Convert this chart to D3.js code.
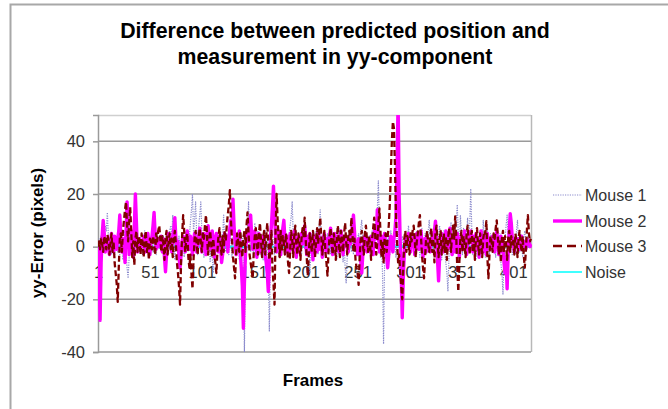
<!DOCTYPE html>
<html><head><meta charset="utf-8">
<script src="https://cdn.jsdelivr.net/npm/d3@7"></script>
<style>body{margin:0;background:#fff}svg{display:block}text{font-family:"Liberation Sans",Arial,sans-serif}</style>
</head><body><svg id="c" width="668" height="409"></svg>
<script>
const frameCount = 418;
const frames = d3.range(1, frameCount + 1);
const xTickLabels = [1, 51, 101, 151, 201, 251, 301, 351, 401];
const yTicks = [-40, -20, 0, 20, 40];
const seriesNames = ["Mouse 1", "Mouse 2", "Mouse 3", "Noise"];

const mouse1 = [
1,3,-2,4,-1,2,5,8,6,13,4,-2,1,-3,2,0,-4,3,1,-2,
2,-3,4,1,-5,3,6,-2,-8,-12,-4,2,5,1,-3,4,7,2,-1,3,
-2,4,1,-3,2,6,5,-1,3,-4,2,0,4,-2,1,3,-3,5,2,-1,
3,-2,1,4,-4,2,5,1,-3,6,8,4,12,3,-5,2,1,-2,4,0,
-3,5,2,-4,3,6,1,-2,4,9,14,20,6,10,17,5,-3,8,12,17,
6,2,-4,3,5,1,-2,4,-6,2,-4,-10,-3,2,5,1,-2,3,6,1,
4,12,3,-2,5,1,-3,6,2,-4,3,8,1,-2,4,2,-5,3,1,4,
-8,-40,-6,4,8,17,3,-2,5,1,-4,9,3,-1,6,2,-3,4,1,-5,
3,6,-2,4,-8,-32,-6,3,5,1,-3,4,7,2,-4,3,6,-1,2,4,
-2,5,1,-3,4,8,11,17,5,-2,3,6,-4,2,1,5,-3,4,2,-1,
3,-2,4,1,-10,-3,5,2,-1,4,6,2,-3,8,14,4,-2,3,1,-4,
2,5,-1,3,-3,6,1,-2,4,2,-5,3,7,1,-2,4,-6,2,-8,-14,
-4,3,5,1,-2,4,-3,6,2,-1,3,5,-2,7,10,4,-3,2,5,1,
-2,4,1,-3,6,3,-1,5,9,14,25,8,-4,2,-10,-37,-6,3,5,1,
4,-3,6,2,-2,5,1,-4,3,7,2,-1,-6,4,2,-3,5,1,3,8,
2,-3,4,1,5,-2,3,6,-1,2,-4,4,7,2,-3,5,1,-2,6,10,
3,-2,5,1,-4,6,2,-3,4,8,1,-5,3,6,-2,-6,-10,-17,-4,5,
9,2,-3,6,3,10,16,4,-2,12,5,-3,7,2,-4,6,11,3,8,22,
6,-3,4,2,-5,5,1,-2,6,3,-1,10,4,-4,3,7,1,-3,5,2,
-2,4,1,-4,6,3,-3,5,-6,-10,-18,-4,3,8,12,4,-2,5,1,-3,
4,2,-3,6,10,3,-2,5,1,-4,3,6,2,-1,4,1,3,2
];

const mouse2 = [
0,-10,-28,-6,4,10,5,-2,1,3,0,-3,2,5,1,-2,4,0,-1,3,
6,12,4,-2,1,3,-6,5,17,7,-3,2,6,1,-4,8,20,9,-2,1,
3,-1,2,0,4,1,-2,3,5,1,-3,2,4,8,13,5,-1,2,0,3,
1,4,-2,3,-4,-9.5,-3,2,5,1,3,-2,4,7,11,3,-1,2,-4,-8,
-3,2,4,1,-2,3,6,2,-1,4,1,-3,2,5,3,-2,1,4,7,3,
-2,1,5,2,-3,4,8,3,-1,2,6,1,-4,3,5,2,-2,4,1,-6,
-3,2,5,1,4,-2,3,7,10,6,18,8,2,-3,4,1,6,-2,-8,-15,
-31,-14,-3,3,5,2,8,12,4,-1,3,6,1,-4,2,5,-2,3,1,4,
2,-3,-6,-10,-17,-5,3,8,15,23,12,4,-2,3,6,1,-3,4,7,10,
3,-2,4,1,-3,5,2,-1,3,6,1,-4,2,4,-2,3,5,1,4,8,
2,-3,4,1,5,-2,3,-5,2,4,1,-2,6,3,-1,2,-4,3,5,1,
-2,3,1,4,7,2,-3,1,5,-1,2,4,-2,3,6,1,-3,2,4,0,
3,-2,4,1,5,8,12,6,-1,2,-3,3,1,-5,-10,-3,2,4,1,-2,
3,1,-2,4,2,-3,5,8,3,14,6,-2,1,4,-3,2,5,1,-4,-8,
-3,2,4,1,-2,3,6,12,30,55,20,2,-10,-27,-12,-2,3,1,4,5,
2,-2,3,1,4,-3,2,5,1,-1,3,6,2,-4,1,3,-2,4,2,1,
-2,3,1,4,6,9.7,3,-5,-13,-4,2,5,1,-2,3,6,2,-1,4,7,
2,-3,4,1,-2,3,5,1,-4,2,4,-1,3,6,2,-3,1,4,2,6,
3,-2,4,1,5,-1,2,-4,3,6,1,-2,4,2,-3,5,1,3,-1,2,
4,1,-2,3,6,2,-3,1,4,-2,2,-6,-10,-4,-16,-3,6,12.5,9,3,
1,-2,3,2,3,1,-1,2,4,1,0,2,-1,3,1,2,0,1
];

const mouse3 = [
0,2,-1,3,1,-2,4,2,-1,4.5,3,-3,1,5,-2,2,-6,-10,-14,-21,
-8,3,5,-2,6,10,14,17,8,2,9,15,6,-4,2,-7,3,6,-2,4,
2,-3,5,1,-4,3,6,-2,1,-5,3,2,-1,4,1,-3,5,2,6,8,
3,-2,4,1,-5,3,6,-3,2,5,-1,3,-4,2,6,1,-6,-10,-15,-22,
-6,4,12,6,-2,3,5,-4,-8,-3,-10,-16,-5,3,6,1,-3,4,7,2,
-2,5,3,8,12,4,-3,2,6,1,-4,3,-2,-6,-10,-2,4,7,1,-3,
4,-2,6,2,8,12,16,21.5,10,3,-4,-8,-12,-3,5,2,-2,6,1,-4,
3,6,-2,8,13,5,-3,-6,-9,-12,-2,4,7,1,-3,5,9,2,-4,3,
6,-3,4,9,2,-5,-2,6,-8,-14,-22,6,20,10,3,-4,6,-2,4,1,
-3,5,2,-6,-10,-2,6,3,-4,4,8,1,-3,5,2,-5,3,7,4,11,
3,-4,-11,-3,5,1,-2,6,3,-4,2,7,1,5,11,4,-3,2,6,-2,
-6,-11,-2,4,7,1,-3,5,2,-5,3,8,1,-4,6,3,-2,5,9,2,
-3,4,6,2,11,5,-2,3,-5,-8,-10,-14.5,-4,3,6,1,-3,5,8,3,
-2,4,1,-5,3,7,11,4,-3,2,8,14.5,6,-4,2,-6,3,5,-2,4,
8,16,28,40,47.5,45,30,12,2,-6,-3,-10,-15,-20,-8,3,6,-2,4,1,
-3,5,2,6,8,3,-4,2,5,9,12,4,-3,-8,-12,-4,3,6,1,-2,
4,7,-2,3,-6,5,8,2,-4,3,6,-3,1,5,-2,4,-5,2,7,3,
-2,5,8,3,11.5,4,-8,-17,-6,3,6,-2,4,1,-4,5,8,2,-3,4,
6,-2,3,-5,4,7,1,-3,5,2,-4,3,6,5,9.7,-4,-12,-3,4,2,
-2,5,3,7,10,4,-3,2,-6,3,6,-2,4,1,-5,3,6,-2,4,1,
3,-3,5,2,-4,3,6,1,-2,4,-3,-8,-2,6,12,5,2,3
];

const noise = [
0.2,-0.3,0.5,0.1,-0.2,0.4,-0.1,0.3,0.6,-0.4,0.1,0.2,-0.5,0.3,0.0,-0.2,0.4,0.1,-0.3,0.2,
-0.1,0.3,0.2,-0.4,0.5,0.1,-0.2,0.3,-0.3,0.4,0.2,-0.1,0.0,0.5,-0.3,0.2,0.1,-0.4,0.3,0.1,
0.4,-0.2,0.1,0.3,-0.5,0.2,0.0,-0.1,0.4,0.3,-0.3,0.1,0.5,-0.2,0.2,-0.4,0.3,0.0,0.1,-0.1,
0.3,0.1,-0.3,0.2,0.4,-0.1,0.5,-0.4,0.0,0.2,0.3,-0.2,0.1,-0.5,0.4,0.2,-0.1,0.3,-0.3,0.1,
-0.2,0.4,0.0,0.3,-0.1,0.2,-0.4,0.5,0.1,-0.3,0.2,0.3,-0.2,0.0,0.4,-0.1,0.1,-0.5,0.3,0.2,
0.1,-0.4,0.3,0.0,0.2,0.5,-0.2,0.1,-0.3,0.4,0.0,-0.1,0.3,0.2,-0.4,0.1,0.5,-0.2,0.0,0.3,
0.5,0.0,-0.3,0.2,0.1,-0.2,0.4,0.3,-0.5,0.1,0.2,0.0,-0.1,0.4,0.3,-0.3,0.2,0.1,-0.4,0.0,
-0.3,0.2,0.4,-0.1,0.0,0.3,-0.2,0.1,0.5,-0.4,0.3,0.2,-0.3,0.1,-0.1,0.4,0.0,0.2,-0.2,0.5,
0.2,0.1,-0.2,0.4,-0.3,0.0,0.3,-0.5,0.2,0.1,-0.1,0.4,0.2,-0.3,0.5,0.0,-0.2,0.3,0.1,-0.4,
0.0,0.3,-0.1,0.2,0.4,-0.3,0.1,0.2,-0.4,0.5,0.1,-0.2,0.3,0.0,-0.3,0.2,0.4,-0.1,0.1,0.3,
-0.4,0.1,0.3,-0.2,0.2,0.5,0.0,-0.3,0.1,0.4,-0.1,0.2,-0.5,0.3,0.1,0.0,-0.2,0.4,0.2,-0.1,
0.3,-0.1,0.0,0.4,-0.3,0.2,0.1,-0.2,0.5,0.0,0.3,-0.4,0.2,0.1,-0.1,0.3,-0.3,0.0,0.4,0.2,
0.1,0.4,-0.2,0.0,0.3,-0.1,0.2,0.5,-0.3,0.1,0.0,0.2,-0.4,0.3,0.4,-0.2,0.1,-0.1,0.2,0.0,
-0.1,0.2,0.5,-0.3,0.1,0.0,0.3,-0.2,0.4,0.2,-0.5,0.1,0.3,0.0,-0.1,0.2,0.4,-0.3,0.1,0.3,
0.2,-0.3,0.1,0.4,0.0,-0.2,0.3,0.1,-0.1,0.5,0.0,0.2,-0.3,0.1,0.4,-0.4,0.2,0.0,0.3,-0.1,
0.4,0.0,-0.2,0.1,0.3,-0.4,0.2,0.0,0.5,-0.1,0.1,0.3,-0.2,0.4,0.0,-0.3,0.1,0.2,-0.1,0.3,
0.0,0.2,-0.4,0.3,0.1,0.5,-0.2,0.0,0.2,-0.3,0.4,0.1,-0.1,0.3,0.2,-0.5,0.0,0.4,0.1,-0.2,
0.3,-0.2,0.1,0.0,0.4,-0.1,0.5,0.2,-0.3,0.1,0.3,-0.4,0.0,0.2,-0.1,0.4,0.1,-0.2,0.3,0.0,
-0.2,0.4,0.1,-0.3,0.2,0.0,0.3,-0.1,0.5,0.1,-0.4,0.2,0.3,-0.2,0.0,0.4,-0.1,0.2,0.1,-0.3,
0.1,0.0,0.3,-0.2,0.4,0.2,-0.5,0.1,0.3,0.0,-0.1,0.4,0.2,-0.3,0.1,0.5,-0.2,0.0,0.3,0.1,
-0.3,0.2,0.4,0.0,-0.1,0.3,0.1,-0.4,0.2,0.5,0.0,-0.2,0.3,0.1,-0.1,0.4,0.2,0.0
];

const svg = d3.select("#c");
const L = 98, R = 531, T = 115, B = 352;
const x = d3.scalePoint().domain(frames).range([L, R]);
const y = d3.scaleLinear().domain([-40, 50]).range([B, T]);

svg.append("rect").attr("width", 668).attr("height", 409).attr("fill", "#fff");
// chart area frame
svg.append("path").attr("d", "M10.5,409 V4.5 H668").attr("fill", "none")
  .attr("stroke", "#a8a8a8").attr("stroke-width", 2);

// title
const title = svg.append("text").attr("text-anchor", "middle")
  .attr("font-weight", "bold").attr("font-size", 21.3).attr("fill", "#000");
title.append("tspan").attr("x", 335).attr("y", 38).text("Difference between predicted position and");
title.append("tspan").attr("x", 335).attr("y", 64).text("measurement in yy-component");

// plot border
svg.append("line").attr("x1", L).attr("x2", R).attr("y1", T + 0.5).attr("y2", T + 0.5)
  .attr("stroke", "#cfcfcf").attr("stroke-width", 1.5);
svg.append("line").attr("x1", R + 0.5).attr("x2", R + 0.5).attr("y1", T).attr("y2", B)
  .attr("stroke", "#b8b8b8").attr("stroke-width", 1.5);

// gridlines
svg.append("g").selectAll("line").data(yTicks.filter(d => d !== 0)).join("line")
  .attr("x1", L).attr("x2", R).attr("y1", d => y(d)).attr("y2", d => y(d))
  .attr("stroke", "#9a9a9a").attr("stroke-width", 1.5);

// y axis
const yAxis = svg.append("g").attr("transform", `translate(${L},0)`)
  .call(d3.axisLeft(y).tickValues(yTicks).tickSize(5).tickPadding(8).tickFormat(d => String(d)));
yAxis.select(".domain").attr("stroke", "#9a9a9a").attr("stroke-width", 1.5);
yAxis.selectAll(".tick line").attr("stroke", "#9a9a9a").attr("stroke-width", 1.5);
yAxis.selectAll(".tick text").attr("font-size", 16.5).attr("fill", "#333")
  .attr("font-family", "'Liberation Sans', Arial, sans-serif");

// x axis at zero
const xAxis = svg.append("g").attr("transform", `translate(0,${y(0)})`)
  .call(d3.axisBottom(x).tickValues(xTickLabels).tickSize(0).tickPadding(20));
xAxis.select(".domain").attr("stroke", "#9a9a9a").attr("stroke-width", 1.5);
xAxis.selectAll(".tick text").attr("font-size", 16.5).attr("fill", "#333")
  .attr("font-family", "'Liberation Sans', Arial, sans-serif");

// axis titles
svg.append("text").attr("x", 313).attr("y", 386).attr("text-anchor", "middle")
  .attr("font-weight", "bold").attr("font-size", 17).text("Frames");
svg.append("text").attr("transform", "translate(43,233) rotate(-90)").attr("text-anchor", "middle")
  .attr("font-weight", "bold").attr("font-size", 17).text("yy-Error (pixels)");

// clip
svg.append("clipPath").attr("id", "plotclip").append("rect")
  .attr("x", L).attr("y", T).attr("width", R - L + 1).attr("height", B - T);

const styles = {
  "Mouse 1": {data: mouse1, color: "#8a8acc", width: 1.2, dash: "1.2,1.2"},
  "Mouse 2": {data: mouse2, color: "#ff00ff", width: 3.4, dash: null},
  "Mouse 3": {data: mouse3, color: "#800000", width: 2.3, dash: "6,3"},
  "Noise":   {data: noise,  color: "#00ffff", width: 1.5, dash: null}
};

const line = d3.line()
  .defined((d, i) => i < frames.length)
  .x((d, i) => x(frames[i]))
  .y(d => y(d));

const plotG = svg.append("g").attr("clip-path", "url(#plotclip)");
["Noise", "Mouse 1", "Mouse 2", "Mouse 3"].forEach(name => {
  const s = styles[name];
  plotG.append("path").datum(s.data).attr("d", line)
    .attr("fill", "none").attr("stroke", s.color).attr("stroke-width", s.width)
    .attr("stroke-dasharray", s.dash).attr("stroke-linejoin", "round");
});

// legend
const legY = [195, 221, 246, 272];
const leg = svg.append("g");
seriesNames.forEach((name, i) => {
  const s = styles[name];
  leg.append("line").attr("x1", 553).attr("x2", 582).attr("y1", legY[i]).attr("y2", legY[i])
    .attr("stroke", s.color).attr("stroke-width", s.width)
    .attr("stroke-dasharray", name === "Mouse 3" ? "9,5" : s.dash);
  leg.append("text").attr("x", 585).attr("y", legY[i]).attr("dy", "0.36em")
    .attr("font-size", 16).attr("fill", "#333").text(name);
});
</script>
</body></html>
